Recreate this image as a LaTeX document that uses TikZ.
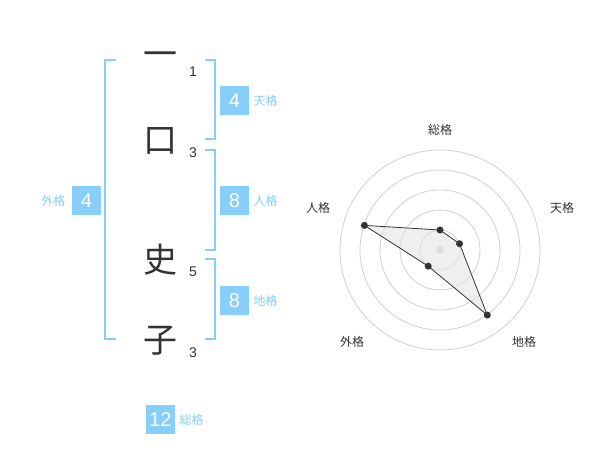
\documentclass[tikz,border=0pt]{standalone}
\usepackage{fontspec}
\setmainfont{Liberation Sans}
\newfontfamily\cjk{Noto Sans CJK JP}
\definecolor{sky}{HTML}{87CEFA}
\definecolor{ink}{HTML}{333333}
\definecolor{ring}{HTML}{D0D0D0}
\begin{document}
\begin{tikzpicture}[x=1pt,y=-1pt,
  kanji/.style={inner sep=0pt, text=ink, font=\cjk\fontsize{34}{34}\selectfont},
  stroke/.style={inner sep=0pt, text=ink, font=\fontsize{14}{14}\selectfont},
  numbox/.style={fill=sky, minimum width=29pt, minimum height=29pt, inner sep=0pt, text=white, font=\fontsize{20}{20}\selectfont},
  kaku/.style={inner sep=0pt, text=sky, font=\cjk\fontsize{12}{12}\selectfont},
  brk/.style={draw=sky, line width=1.6pt},
  axlabel/.style={inner sep=0pt, text=ink, font=\cjk\fontsize{12}{12}\selectfont},
  pt/.style={circle, fill=ink, inner sep=0pt, minimum size=7pt}]
\useasboundingbox (0,0) rectangle (600,470);
% kanji
\node[kanji] (k1) at (160,59) {一};
\node[kanji] (k2) at (160,141) {口};
\node[kanji] (k3) at (160,260) {史};
\node[kanji] (k4) at (160,341) {子};
\node[stroke] (s1) at (193,72) {1};
\node[stroke] (s2) at (193,153) {3};
\node[stroke] (s3) at (193,272) {5};
\node[stroke] (s4) at (193,353) {3};
% brackets
\draw[brk] (116,60) -- (105,60) -- (105,339) -- (116,339);
\draw[brk] (205,60) -- (215,60) -- (215,139) -- (205,139);
\draw[brk] (205,150) -- (215,150) -- (215,250) -- (205,250);
\draw[brk] (205,259) -- (215,259) -- (215,339) -- (205,339);
% boxes
\node[numbox] (ten) at (234.5,100.5) {4};
\node[kaku, anchor=west] (tenl) at (253.5,101) {天格};
\node[numbox] (jin) at (234.5,200.5) {8};
\node[kaku, anchor=west] (jinl) at (253.5,201) {人格};
\node[numbox] (chi) at (234.5,300.5) {8};
\node[kaku, anchor=west] (chil) at (253.5,301) {地格};
\node[numbox] (gai) at (86.5,200.5) {4};
\node[kaku, anchor=east] (gail) at (65.5,201) {外格};
\node[numbox] (sou) at (160.5,419.5) {12};
\node[kaku, anchor=west] (soul) at (179.5,420) {総格};
% radar
\coordinate (c) at (440,250);
\foreach \r in {20,40,60,80,100} \draw[ring, line width=0.8pt] (c) circle (\r);
\fill[ring] (c) circle (4);
\path (c) ++(90:20) coordinate (p1);
\path (c) ++(18:20.5) coordinate (p2);
\path (c) ++(-54:80.5) coordinate (p3);
\path (c) ++(-126:20) coordinate (p4);
\path (c) ++(162:79.5) coordinate (p5);
\path (c) ++(90:-20) coordinate (q1);
\draw[ink, line width=0.8pt, fill=black!10, fill opacity=0.6]
  (440,230) -- (459.5,243.7) -- (487.3,315.1) -- (428.2,266.2) -- (364.4,225.4) -- cycle;
\node[pt] (d1) at (440,230) {};
\node[pt] (d2) at (459.5,243.7) {};
\node[pt] (d3) at (487.3,315.1) {};
\node[pt] (d4) at (428.2,266.2) {};
\node[pt] (d5) at (364.4,225.4) {};
\node[axlabel] (a1) at (440,130) {総格};
\node[axlabel] (a2) at (562,208) {天格};
\node[axlabel] (a3) at (524,342) {地格};
\node[axlabel] (a4) at (352,342) {外格};
\node[axlabel] (a5) at (318,208) {人格};
\end{tikzpicture}
\end{document}
